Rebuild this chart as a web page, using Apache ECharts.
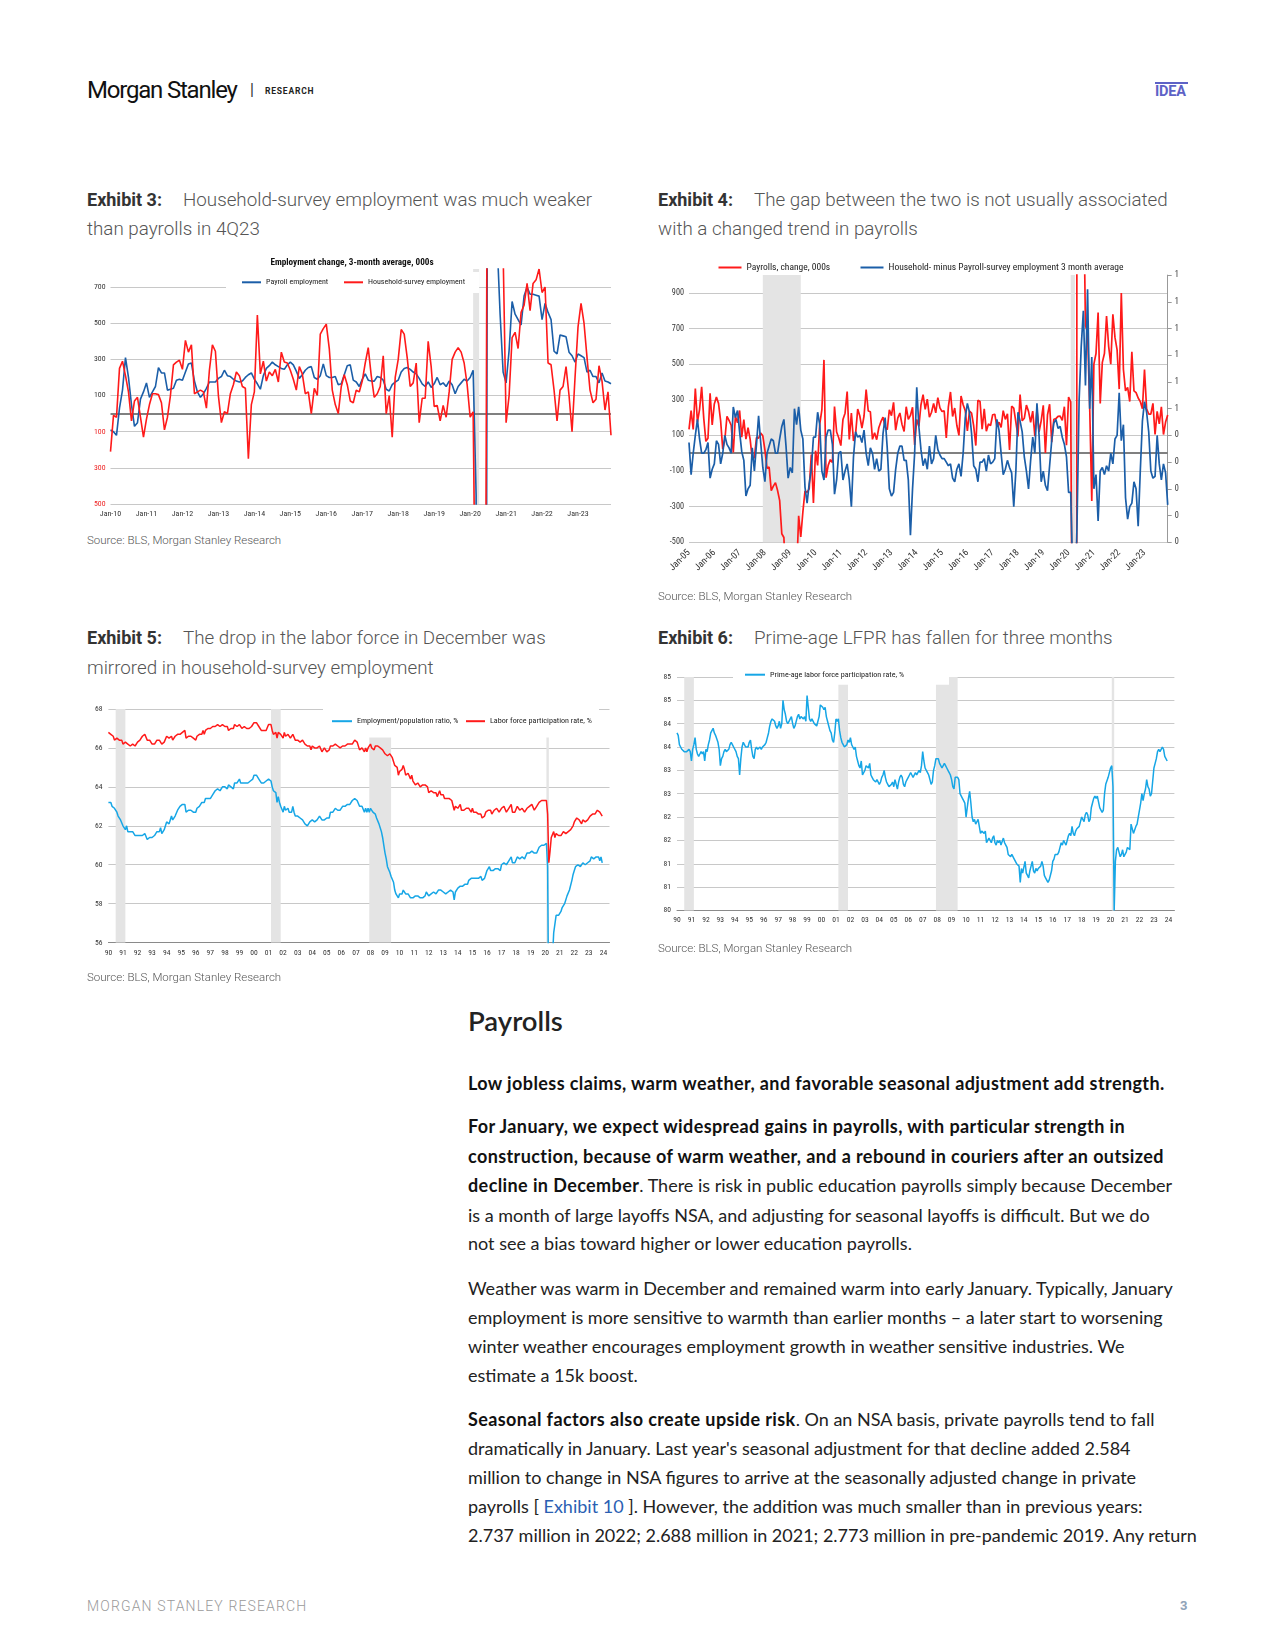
<!DOCTYPE html>
<html><head><meta charset="utf-8">
<script src="https://cdn.jsdelivr.net/npm/echarts/dist/echarts.min.js"></script>
<style>
html,body{margin:0;padding:0;background:#fff;}
body{width:1275px;height:1650px;position:relative;overflow:hidden;font-family:Roboto,sans-serif;}
.a{position:absolute;white-space:nowrap;}
.cap{font-family:Roboto,sans-serif;font-size:18.8px;line-height:22px;color:#555;font-weight:300;}
.capb{font-size:18px;font-weight:700;color:#333;}
.src{font-family:Roboto,sans-serif;font-size:11.5px;line-height:14px;color:#555;font-weight:300;}
.bd{font-family:Lato,'Open Sans',sans-serif;font-size:18px;line-height:22px;color:#222;left:468px;}
.bd b{color:#111;letter-spacing:0.4px;}
.lnk{color:#2b5fb3;}
.chart{position:absolute;}
</style></head><body>

<div class="a" style="left:87px;top:75px;font-size:24px;line-height:30px;color:#111;letter-spacing:-1.2px;">Morgan Stanley</div>
<div class="a" style="left:250px;top:80px;font-size:16px;line-height:20px;color:#333;">|</div>
<div class="a" style="left:265px;top:86px;font-size:8.5px;line-height:10px;font-weight:700;letter-spacing:0.8px;color:#222;">RESEARCH</div>
<div class="a" style="left:1155px;top:81.5px;width:33px;height:2.5px;background:#5d62c6;"></div>
<div class="a" style="left:1155px;top:83px;font-size:14.5px;line-height:17px;font-weight:700;color:#5d62c6;letter-spacing:-0.2px;">IDEA</div>

<div class="a cap" style="left:87px;top:189px;"><span class="capb">Exhibit 3:</span></div>
<div class="a cap" style="left:183px;top:189px;">Household-survey employment was much weaker</div>
<div class="a cap" style="left:87px;top:218px;">than payrolls in 4Q23</div>

<div class="a cap" style="left:658px;top:189px;"><span class="capb">Exhibit 4:</span></div>
<div class="a cap" style="left:754px;top:189px;">The gap between the two is not usually associated</div>
<div class="a cap" style="left:658px;top:218px;">with a changed trend in payrolls</div>

<div class="a cap" style="left:87px;top:627px;"><span class="capb">Exhibit 5:</span></div>
<div class="a cap" style="left:183px;top:627px;">The drop in the labor force in December was</div>
<div class="a cap" style="left:87px;top:657px;">mirrored in household-survey employment</div>

<div class="a cap" style="left:658px;top:627px;"><span class="capb">Exhibit 6:</span></div>
<div class="a cap" style="left:754px;top:627px;">Prime-age LFPR has fallen for three months</div>

<div id="c1" class="chart" style="left:87px;top:252px;width:540px;height:280px;"></div>
<div id="c2" class="chart" style="left:650px;top:256.5px;width:545px;height:335px;"></div>
<div id="c3" class="chart" style="left:85px;top:697px;width:540px;height:275px;"></div>
<div id="c4" class="chart" style="left:650px;top:661.5px;width:545px;height:280px;"></div>

<div class="a src" style="left:87px;top:533px;">Source: BLS, Morgan Stanley Research</div>
<div class="a src" style="left:658px;top:589px;">Source: BLS, Morgan Stanley Research</div>
<div class="a src" style="left:87px;top:970px;">Source: BLS, Morgan Stanley Research</div>
<div class="a src" style="left:658px;top:941px;">Source: BLS, Morgan Stanley Research</div>

<div class="a" style="left:468px;top:1005px;font-family:Lato,'Open Sans',sans-serif;font-size:27.5px;line-height:32px;font-weight:600;color:#222;">Payrolls</div>

<div class="a bd" style="top:1072px;"><b>Low jobless claims, warm weather, and favorable seasonal adjustment add strength.</b></div>

<div class="a bd" style="top:1115px;"><b>For January, we expect widespread gains in payrolls, with particular strength in</b></div>
<div class="a bd" style="top:1145px;"><b>construction, because of warm weather, and a rebound in couriers after an outsized</b></div>
<div class="a bd" style="top:1174px;"><b>decline in December</b>. There is risk in public education payrolls simply because December</div>
<div class="a bd" style="top:1204px;">is a month of large layoffs NSA, and adjusting for seasonal layoffs is difficult. But we do</div>
<div class="a bd" style="top:1232px;">not see a bias toward higher or lower education payrolls.</div>

<div class="a bd" style="top:1277px;">Weather was warm in December and remained warm into early January. Typically, January</div>
<div class="a bd" style="top:1306px;">employment is more sensitive to warmth than earlier months – a later start to worsening</div>
<div class="a bd" style="top:1335px;">winter weather encourages employment growth in weather sensitive industries. We</div>
<div class="a bd" style="top:1364px;">estimate a 15k boost.</div>

<div class="a bd" style="top:1407.5px;"><b>Seasonal factors also create upside risk</b>. On an NSA basis, private payrolls tend to fall</div>
<div class="a bd" style="top:1436.5px;">dramatically in January. Last year's seasonal adjustment for that decline added 2.584</div>
<div class="a bd" style="top:1466px;">million to change in NSA figures to arrive at the seasonally adjusted change in private</div>
<div class="a bd" style="top:1494.5px;">payrolls [ <span class="lnk">Exhibit 10</span> ]. However, the addition was much smaller than in previous years:</div>
<div class="a bd" style="top:1524px;">2.737 million in 2022; 2.688 million in 2021; 2.773 million in pre-pandemic 2019. Any return</div>

<div class="a" style="left:87px;top:1598px;font-size:14px;line-height:16px;color:#9a9a9a;letter-spacing:1.15px;font-weight:300;">MORGAN STANLEY RESEARCH</div>
<div class="a" style="left:1180px;top:1598px;font-size:13px;line-height:16px;color:#8fa3b8;font-weight:700;">3</div>

<script>
// ---------- Exhibit 3 data (Jan-10 .. Dec-23), 3-month average, 000s ----------
const payrollAvg = [
-90,-100,-120,30,130,310,200,50,-70,-50,80,120,
170,90,120,150,255,225,225,130,135,140,185,190,
185,230,275,280,180,120,90,110,140,175,175,175,
195,205,240,210,205,190,180,175,180,200,215,225,
190,165,135,210,250,265,285,270,260,250,245,270,
285,270,235,195,215,240,255,260,200,190,210,275,
210,200,200,205,160,165,215,265,270,185,175,150,
190,220,185,180,180,205,200,185,135,125,160,175,
185,230,250,255,245,230,220,195,165,150,175,145,
165,200,160,170,150,180,160,110,150,170,190,180,
200,240,-450,-7000,-5600,-4300,3100,2700,1300,950,550,230,
170,350,620,550,520,490,650,700,660,660,655,650,
520,610,560,520,345,330,435,430,425,340,320,285,
330,320,310,230,240,205,205,170,225,180,175,165];
const householdAvg = [
-210,-10,-20,250,290,210,120,-40,70,90,-20,-130,
-30,50,110,110,105,60,-90,-20,100,270,285,295,
245,405,340,380,110,120,130,120,30,240,380,345,
100,-50,10,0,110,160,230,210,150,140,-250,50,
120,545,220,290,180,230,210,245,175,340,285,280,
240,190,130,260,220,110,120,0,140,100,440,470,
495,360,130,50,0,150,215,160,70,60,130,120,
180,280,365,210,90,110,150,320,0,100,-130,200,
300,465,440,310,150,170,280,-50,85,85,400,260,
40,45,-40,45,-20,120,300,340,365,340,280,160,
-20,10,-1500,-7000,-5000,-2000,3000,2500,2000,1500,1200,900,
-50,100,420,450,360,560,600,720,570,720,740,800,
670,700,280,270,130,-40,130,150,260,100,-100,200,
480,610,500,310,130,60,80,265,180,20,120,-120];
const ex3TickLabels = ['Jan-10','Jan-11','Jan-12','Jan-13','Jan-14','Jan-15','Jan-16','Jan-17','Jan-18','Jan-19','Jan-20','Jan-21','Jan-22','Jan-23'];

// ---------- Exhibit 4 data (Jan-05 .. Dec-23) ----------
const payrollChange = [
134,239,134,363,175,245,373,196,67,84,337,159,
277,315,280,182,23,77,207,184,157,4,208,171,
240,90,189,79,143,78,-33,-24,88,84,114,98,
17,-84,-78,-210,-185,-165,-209,-266,-452,-473,-769,-695,
-791,-703,-823,-686,-351,-470,-329,-212,-219,-200,-7,-279,
14,-68,164,243,524,-137,-68,-36,-52,262,119,87,
43,189,225,346,77,225,69,110,248,209,141,209,
358,237,233,78,115,76,143,177,203,146,132,244,
211,286,130,197,226,162,122,261,190,212,258,47,
190,151,272,329,246,304,202,230,280,227,312,255,
234,238,86,262,344,206,254,157,100,321,272,239,
126,237,225,153,43,297,291,135,249,124,164,155,
216,219,149,174,145,239,190,221,18,264,253,175,
94,329,182,196,270,235,173,236,96,244,120,182,
269,1,215,275,62,191,194,207,208,185,261,45,
315,289,-1683,-20477,2793,4846,1726,1583,716,680,264,-268,
500,560,790,280,510,560,770,600,500,780,650,580,
360,900,470,350,370,290,570,350,340,310,290,250,
470,250,220,220,280,105,235,165,260,105,175,215];
const hhMinusPayroll = [
60,-120,0,100,190,80,0,0,20,60,-140,-90,
-60,70,50,-60,0,100,50,30,0,260,200,240,
120,10,-40,-240,-200,-180,30,-100,50,210,60,-80,
-160,0,40,80,70,0,0,80,150,190,40,-140,
-80,-110,250,160,260,130,80,-190,-280,-170,-90,90,
90,230,160,-100,-150,90,130,130,50,-230,-150,0,
10,-150,-100,-60,-150,-300,-20,120,90,100,60,130,
0,-70,30,0,-90,-30,-100,-90,110,200,30,-200,
-240,-220,-90,0,40,40,-40,-40,-150,-460,-200,0,
370,150,20,-70,-30,-90,40,-60,-30,100,20,-10,
-30,-30,-50,-70,-60,-140,-160,-90,-60,-130,0,200,
280,230,110,-70,-90,-160,-50,-50,-30,-100,-10,-60,
-50,-30,190,130,0,-120,-90,-40,-80,-110,-300,-100,
230,180,120,-20,-100,-200,-40,90,0,280,100,-160,
-100,-180,-210,-70,70,170,190,140,150,90,50,-20,
-220,-220,-700,-900,-400,300,600,800,380,920,250,540,
-200,-120,-380,-100,-80,-120,-70,-100,0,-60,80,100,
340,70,160,-250,-370,-300,-280,-160,-200,-410,-100,180,
290,230,120,-100,-140,-130,100,-60,-150,-60,-110,-290];
const ex4TickLabels = ['Jan-05','Jan-06','Jan-07','Jan-08','Jan-09','Jan-10','Jan-11','Jan-12','Jan-13','Jan-14','Jan-15','Jan-16','Jan-17','Jan-18','Jan-19','Jan-20','Jan-21','Jan-22','Jan-23'];
const ex4RightLabels = ['0','0','0','0','0','1','1','1','1','1','1'];

// ---------- Exhibit 5 data (Jan-90 .. Dec-23), % ----------
const epopRatio = [
63.2,63.2,63.2,63.0,63.1,62.9,62.8,62.7,62.5,62.5,62.3,62.2,
62.0,61.9,61.8,62.0,61.7,61.8,61.7,61.6,61.7,61.6,61.5,61.4,
61.5,61.4,61.5,61.6,61.5,61.5,61.6,61.5,61.3,61.3,61.4,61.4,
61.4,61.5,61.5,61.5,61.7,61.7,61.7,61.9,61.6,61.7,61.8,61.9,
62.2,62.2,62.1,62.3,62.5,62.3,62.3,62.5,62.6,62.8,62.9,63.0,
63.0,63.1,63.0,63.1,62.7,62.7,62.8,62.8,62.8,62.8,62.7,62.7,
62.7,62.9,62.9,63.0,63.0,63.2,63.3,63.2,63.4,63.4,63.4,63.4,
63.4,63.4,63.6,63.7,63.8,63.7,63.9,63.8,63.8,63.9,64.0,63.9,
64.0,64.0,63.9,64.1,64.1,64.0,64.0,63.9,64.2,64.1,64.2,64.3,
64.4,64.2,64.2,64.2,64.3,64.2,64.2,64.2,64.2,64.3,64.4,64.4,
64.6,64.6,64.6,64.7,64.4,64.5,64.2,64.2,64.2,64.2,64.3,64.4,
64.4,64.3,64.3,64.0,63.8,63.7,63.7,63.2,63.5,63.2,63.0,62.9,
62.7,63.0,62.8,62.7,62.9,62.7,62.7,62.7,63.0,62.7,62.5,62.4,
62.5,62.5,62.4,62.4,62.3,62.3,62.1,62.1,62.0,62.1,62.2,62.2,
62.3,62.3,62.2,62.3,62.3,62.4,62.5,62.4,62.3,62.3,62.3,62.4,
62.4,62.4,62.4,62.7,62.8,62.7,62.8,62.9,62.8,62.8,62.7,62.8,
62.9,63.0,63.1,63.0,63.1,63.1,63.0,63.1,63.1,63.3,63.3,63.4,
63.3,63.3,63.3,63.0,63.0,63.0,62.9,62.7,62.9,62.7,62.9,62.7,
62.9,62.8,62.7,62.7,62.6,62.4,62.3,62.1,61.9,61.7,61.4,61.0,
60.6,60.3,59.9,59.8,59.6,59.4,59.3,59.1,58.7,58.5,58.6,58.3,
58.5,58.5,58.5,58.7,58.6,58.5,58.5,58.5,58.5,58.3,58.3,58.3,
58.4,58.4,58.4,58.4,58.4,58.3,58.2,58.3,58.4,58.4,58.6,58.6,
58.4,58.5,58.5,58.4,58.6,58.6,58.5,58.4,58.7,58.8,58.7,58.7,
58.6,58.6,58.5,58.6,58.6,58.6,58.7,58.6,58.6,58.2,58.6,58.6,
58.8,58.8,58.9,58.9,58.9,59.0,59.0,59.0,59.0,59.2,59.2,59.3,
59.3,59.3,59.3,59.3,59.4,59.3,59.3,59.4,59.2,59.3,59.3,59.5,
59.7,59.8,59.9,59.7,59.7,59.7,59.8,59.8,59.8,59.8,59.8,59.7,
60.0,60.0,60.1,60.2,60.0,60.1,60.2,60.2,60.4,60.1,60.1,60.1,
60.1,60.4,60.4,60.3,60.4,60.4,60.5,60.3,60.3,60.6,60.6,60.6,
60.7,60.7,60.7,60.6,60.6,60.6,60.7,60.9,61.0,61.0,61.0,61.0,
61.1,61.1,59.9,51.3,52.8,54.6,55.2,56.5,56.6,57.4,57.4,57.4,
57.5,57.6,57.8,57.9,58.0,58.0,58.4,58.5,58.7,58.8,59.2,59.5,
59.7,59.9,60.0,60.0,60.0,59.9,60.0,60.1,60.1,60.0,59.9,60.1,
60.2,60.2,60.4,60.4,60.3,60.3,60.4,60.4,60.4,60.2,60.4,60.1];
const lfpRate = [
66.8,66.7,66.7,66.6,66.6,66.4,66.5,66.5,66.4,66.4,66.4,66.4,
66.2,66.2,66.3,66.4,66.2,66.2,66.1,66.0,66.2,66.1,66.1,66.0,
66.3,66.2,66.4,66.5,66.6,66.7,66.7,66.6,66.4,66.3,66.4,66.4,
66.2,66.2,66.2,66.1,66.4,66.5,66.4,66.4,66.2,66.3,66.3,66.4,
66.6,66.6,66.5,66.6,66.6,66.4,66.4,66.6,66.6,66.7,66.7,66.7,
66.8,66.8,66.7,66.9,66.5,66.5,66.6,66.6,66.6,66.6,66.5,66.4,
66.4,66.6,66.6,66.7,66.7,66.7,66.9,66.7,66.9,67.0,67.0,67.0,
67.0,66.9,67.1,67.1,67.1,67.1,67.2,67.1,67.1,67.1,67.2,67.2,
67.1,67.1,67.1,66.9,67.0,67.0,67.0,67.0,67.2,67.2,67.1,67.2,
67.2,67.2,67.0,67.1,67.1,67.1,67.0,67.0,67.0,67.0,67.1,67.1,
67.3,67.3,67.3,67.3,67.1,67.1,66.9,66.9,66.9,66.8,66.9,67.0,
67.2,67.1,67.2,66.9,66.7,66.7,66.8,66.5,66.8,66.7,66.7,66.7,
66.5,66.8,66.6,66.7,66.7,66.6,66.5,66.6,66.7,66.6,66.4,66.3,
66.4,66.4,66.3,66.4,66.4,66.5,66.2,66.1,66.1,66.1,66.1,65.9,
66.1,66.0,66.0,65.9,66.0,66.1,66.1,66.0,65.8,65.9,66.0,65.9,
65.8,65.9,65.9,66.1,66.1,66.1,66.1,66.2,66.1,66.1,66.0,66.0,
66.0,66.1,66.2,66.1,66.1,66.2,66.1,66.2,66.1,66.2,66.3,66.4,
66.4,66.3,66.2,65.9,66.0,66.0,66.0,65.8,66.0,65.8,66.0,66.0,
66.2,66.0,66.1,65.9,66.1,66.1,66.1,66.1,66.0,66.0,65.9,65.8,
65.7,65.8,65.6,65.7,65.7,65.7,65.5,65.4,65.1,65.0,65.0,64.6,
64.8,64.9,64.9,65.1,64.9,64.6,64.6,64.7,64.6,64.4,64.6,64.3,
64.2,64.1,64.2,64.2,64.1,64.0,64.0,64.1,64.2,64.1,64.1,64.0,
63.7,63.8,63.8,63.7,63.7,63.8,63.7,63.5,63.6,63.8,63.6,63.7,
63.6,63.4,63.3,63.4,63.4,63.4,63.3,63.3,63.2,62.8,63.0,62.9,
62.9,62.9,63.1,62.8,62.9,62.8,62.9,62.9,62.8,62.9,62.9,62.7,
62.9,62.7,62.7,62.7,62.8,62.6,62.6,62.6,62.4,62.5,62.5,62.7,
62.7,62.8,62.9,62.8,62.6,62.7,62.8,62.8,62.9,62.8,62.7,62.7,
62.9,62.9,63.0,62.9,62.7,62.8,62.9,62.9,63.1,62.7,62.7,62.7,
62.7,63.0,62.9,62.8,62.8,62.9,62.9,62.7,62.7,62.9,62.9,63.0,
63.1,63.1,63.0,62.8,62.9,63.0,63.1,63.2,63.2,63.3,63.3,63.3,
63.3,63.3,62.6,60.1,60.7,61.4,61.5,61.7,61.4,61.6,61.5,61.5,
61.4,61.5,61.6,61.7,61.6,61.6,61.7,61.7,61.7,61.8,61.9,62.0,
62.2,62.3,62.4,62.3,62.3,62.2,62.1,62.3,62.3,62.2,62.2,62.3,
62.4,62.5,62.6,62.6,62.6,62.6,62.6,62.8,62.8,62.7,62.8,62.5];

// ---------- Exhibit 6 data (Jan-90 .. Dec-23), % ----------
const primeAgeLfpr = [
83.8,83.75,83.55,83.5,83.45,83.45,83.4,83.4,83.4,83.4,83.45,83.4,
83.2,83.45,83.55,83.7,83.45,83.35,83.3,83.35,83.4,83.35,83.4,83.2,
83.45,83.4,83.55,83.65,83.8,83.85,83.9,83.8,83.75,83.75,83.6,83.45,
83.1,83.25,83.3,83.4,83.45,83.4,83.4,83.45,83.55,83.6,83.55,83.5,
83.5,83.4,83.3,83.25,82.9,83.25,83.5,83.6,83.55,83.5,83.5,83.5,
83.6,83.65,83.45,83.3,83.25,83.45,83.5,83.45,83.45,83.5,83.45,83.5,
83.5,83.55,83.6,83.7,83.8,83.95,84.05,84.1,84.1,84.05,83.95,83.9,
83.95,84.05,83.9,84.0,84.5,84.3,84.2,84.05,84.0,84.05,84.1,84.15,
84.0,83.9,83.95,84.05,84.15,84.2,84.1,84.15,84.15,84.1,84.15,84.05,
84.6,84.35,84.1,84.05,84.1,84.1,84.0,84.0,83.95,84.05,84.15,84.4,
84.4,84.35,84.3,84.35,84.15,84.05,83.95,83.85,83.8,83.65,83.6,83.8,
84.1,84.05,84.1,83.85,83.7,83.6,83.55,83.5,83.5,83.55,83.65,83.6,
83.7,83.55,83.5,83.45,83.5,83.3,83.2,83.1,83.05,83.2,82.9,82.9,
83.0,83.1,83.1,83.05,83.15,82.9,82.85,82.8,82.8,82.75,82.8,82.8,
82.7,82.75,82.85,82.9,83.0,82.85,82.75,82.7,82.65,82.65,82.7,82.75,
82.65,82.8,82.7,82.6,82.75,82.85,82.9,82.85,82.7,82.65,82.75,82.8,
82.85,82.9,82.95,82.9,82.85,82.9,82.95,82.9,82.95,83.0,82.95,83.1,
83.4,83.2,83.05,83.0,82.95,82.9,82.8,82.7,82.75,83.0,83.1,83.25,
83.25,83.25,83.15,83.1,83.05,83.05,83.15,83.1,83.05,83.0,82.95,82.9,
82.8,82.65,82.6,82.85,82.85,82.85,82.8,82.5,82.5,82.4,82.35,82.3,
82.0,82.2,82.4,82.55,82.3,82.0,81.9,81.95,81.85,81.9,81.95,81.8,
81.65,81.7,81.7,81.65,81.7,81.45,81.5,81.55,81.5,81.45,81.55,81.6,
81.45,81.4,81.5,81.45,81.5,81.4,81.4,81.55,81.45,81.4,81.35,81.2,
81.2,81.15,81.2,81.2,81.1,81.05,81.0,81.0,80.95,80.6,80.9,80.8,
80.8,81.05,80.8,80.75,80.7,80.85,80.95,81.05,80.85,80.8,80.9,80.85,
80.9,80.9,80.95,81.05,80.95,80.75,80.7,80.65,80.6,80.65,80.75,80.85,
81.05,81.1,81.2,81.2,81.2,81.25,81.35,81.45,81.4,81.5,81.45,81.4,
81.5,81.6,81.65,81.6,81.8,81.65,81.6,81.7,81.75,81.75,81.8,81.8,
82.0,81.95,81.9,82.05,82.1,82.05,81.9,81.95,82.2,82.3,82.4,82.45,
82.4,82.45,82.45,82.2,82.15,82.1,82.15,82.5,82.7,82.7,82.85,82.95,
83.05,83.1,82.65,80.0,81.05,81.3,81.35,81.25,81.15,81.2,81.3,81.15,
81.2,81.25,81.35,81.35,81.3,81.85,81.75,81.65,81.65,81.8,81.85,82.0,
82.15,82.3,82.5,82.35,82.5,82.6,82.8,82.65,82.6,82.45,82.5,82.5,
83.05,83.15,83.25,83.4,83.45,83.4,83.45,83.5,83.45,83.3,83.3,83.2];
const yearTickLabels = ['90','91','92','93','94','95','96','97','98','99','00','01','02','03','04','05','06','07','08','09','10','11','12','13','14','15','16','17','18','19','20','21','22','23','24'];
const ex6YLabels = ['80','81','81','82','82','83','83','84','84','85','85'];
const recessions = [['1990-07','1991-03'],['2001-03','2001-11'],['2007-12','2009-06'],['2020-02','2020-04']];

// ---------- helpers ----------
function monthCats(y0, y1, mEnd){
  const a=[];
  for(let y=y0;y<=y1;y++){ for(let m=1;m<=12;m++){ if(y===y1 && m>mEnd) break; a.push(y+'-'+(m<10?'0':'')+m); } }
  return a;
}
const FONT = "'Roboto Condensed','Liberation Sans Narrow',Roboto,sans-serif";
const DBLUE = '#1b5ea8', RED = '#ff1a1a', LBLUE = '#16a6e6';
const GRID_C = '#c8c8c8', BAND = '#e4e4e4', ZERO_C = '#808080';
function lbl(size){ return {fontSize:size, color:'#333', fontFamily:FONT}; }
function legendItem(name, left, top, w, size){
  return {data:[name], left:left, top:top, padding:0, itemWidth:w, itemHeight:2, icon:'rect', itemGap:0,
          textStyle:{fontSize:size, color:'#222', fontFamily:FONT}, selectedMode:false, z:6};
}
function catAxis(cats, labels, labelOpt, lineOpt){
  return {type:'category', data:cats, boundaryGap:false,
    axisLine:lineOpt||{show:false}, axisTick:{show:false}, splitLine:{show:false},
    axisLabel:Object.assign({interval:(i)=>i%12===0, formatter:(v,i)=>labels[Math.floor(i/12)]||''}, labelOpt)};
}
function line(name, data, color, w, extra){
  return Object.assign({name:name, type:'line', data:data, showSymbol:false, symbol:'none', silent:true,
    lineStyle:{color:color, width:w}, itemStyle:{color:color}, z:2}, extra||{});
}

// ---------- Exhibit 3 ----------
const c1 = echarts.init(document.getElementById('c1'));
c1.setOption({
  animation:false,
  grid:{left:23.5, top:17, width:500.5, height:235, outerBoundsMode:'none'},
  graphic:[
    {type:'rect', z:3, shape:{x:139,y:20,width:253,height:21}, style:{fill:'#fff'}},
    {type:'text', z:5, x:265, y:10.5, style:{text:'Employment change, 3-month average, 000s', fontSize:9.2, fontWeight:'bold', fontFamily:FONT, fill:'#111', align:'center', verticalAlign:'middle', textAlign:'center', textVerticalAlign:'middle'}}
  ],
  legend:[legendItem('Payroll employment',155,26.3,19,8), legendItem('Household-survey employment',257,26.3,19,8)],
  xAxis: catAxis(monthCats(2010,2023,12), ex3TickLabels, Object.assign({margin:6}, lbl(8))),
  yAxis:{type:'value', min:-500, max:800, interval:200, axisLine:{show:false}, axisTick:{show:false},
    splitLine:{show:true, showMaxLine:false, lineStyle:{color:GRID_C, width:1}},
    axisLabel:{showMaxLabel:false, margin:5, formatter:(v)=> v<0 ? '{n|'+(-v)+'}' : '{p|'+v+'}',
      rich:{p:{fontSize:7.8,color:'#333',fontFamily:FONT}, n:{fontSize:7.8,color:'#ee2222',fontFamily:FONT}}}},
  series:[
    line('Payroll employment', payrollAvg, DBLUE, 1.6, {
      markArea:{silent:true, z:1, itemStyle:{color:BAND}, data:[[{xAxis:'2020-02'},{xAxis:'2020-04'}]]},
      markLine:{silent:true, z:1, symbol:'none', label:{show:false}, lineStyle:{color:ZERO_C, width:2, type:'solid'}, data:[{yAxis:0}]}}),
    line('Household-survey employment', householdAvg, RED, 1.6)
  ]
});

// ---------- Exhibit 4 ----------
const c2 = echarts.init(document.getElementById('c2'));
c2.setOption({
  animation:false,
  grid:{left:39, top:18.1, width:478.7, height:267.2, outerBoundsMode:'none'},
  legend:[legendItem('Payrolls, change, 000s',68.5,5.5,23,9.5), legendItem('Household- minus Payroll-survey employment 3 month average',210.5,5.5,23,9.5)],
  xAxis: catAxis(monthCats(2005,2023,12), ex4TickLabels, Object.assign({rotate:45, margin:9}, lbl(9.5))),
  yAxis:[
    {type:'value', min:-500, max:1000, interval:200, position:'left', axisLine:{show:false}, axisTick:{show:false},
     splitLine:{show:true, showMaxLine:false, lineStyle:{color:GRID_C, width:1}},
     axisLabel:Object.assign({showMaxLabel:false, margin:5}, lbl(8.2))},
    {type:'value', min:0, max:1, interval:0.1, position:'right', axisLine:{show:true, lineStyle:{color:'#999'}},
     axisTick:{show:true, length:4, lineStyle:{color:'#999'}}, splitLine:{show:false},
     axisLabel:Object.assign({margin:7, formatter:(v,i)=>ex4RightLabels[i]}, lbl(8.2))}
  ],
  series:[
    line('Payrolls, change, 000s', payrollChange, RED, 1.7, {
      markArea:{silent:true, z:1, itemStyle:{color:BAND}, data:[[{xAxis:'2007-12'},{xAxis:'2009-06'}],[{xAxis:'2020-02'},{xAxis:'2020-04'}]]},
      markLine:{silent:true, z:1, symbol:'none', label:{show:false}, lineStyle:{color:ZERO_C, width:2, type:'solid'}, data:[{yAxis:0}]}}),
    line('Household- minus Payroll-survey employment 3 month average', hhMinusPayroll, DBLUE, 1.7)
  ]
});

// ---------- Exhibit 5 ----------
const catsLong = monthCats(1990,2024,6);
const recArea = recessions.map(r=>[{xAxis:r[0]},{xAxis:r[1]}]);
const c3 = echarts.init(document.getElementById('c3'));
c3.setOption({
  animation:false,
  grid:{left:23.4, top:12, width:501.1, height:233.6, outerBoundsMode:'none'},
  graphic:[{type:'rect', z:3, shape:{x:238,y:9,width:276,height:31.5}, style:{fill:'#fff'}}],
  legend:[legendItem('Employment/population ratio, %',247,20.2,20,8.1), legendItem('Labor force participation rate, %',381,20.2,19,8.1)],
  xAxis: catAxis(catsLong, yearTickLabels, Object.assign({margin:6}, lbl(7.6)), {show:true, lineStyle:{color:'#8a8a8a'}}),
  yAxis:{type:'value', min:56, max:68, interval:2, axisLine:{show:false}, axisTick:{show:false},
    splitLine:{show:true, lineStyle:{color:GRID_C, width:1}}, axisLabel:Object.assign({margin:6}, lbl(7.6))},
  series:[
    line('Employment/population ratio, %', epopRatio, LBLUE, 1.5, {
      markArea:{silent:true, z:1, itemStyle:{color:BAND}, data:recArea}}),
    line('Labor force participation rate, %', lfpRate, RED, 1.5)
  ]
});

// ---------- Exhibit 6 ----------
const c4 = echarts.init(document.getElementById('c4'));
c4.setOption({
  animation:false,
  grid:{left:27, top:14.9, width:497.4, height:233.6, outerBoundsMode:'none'},
  graphic:[{type:'rect', z:3, shape:{x:83,y:0,width:216,height:22.8}, style:{fill:'#fff'}}],
  legend:[legendItem('Prime-age labor force participation rate, %',95,8.7,20,8.1)],
  xAxis: catAxis(catsLong, yearTickLabels, Object.assign({margin:6}, lbl(7.6)), {show:true, lineStyle:{color:'#8a8a8a'}}),
  yAxis:{type:'value', min:80, max:85, interval:0.5, axisLine:{show:false}, axisTick:{show:false},
    splitLine:{show:true, lineStyle:{color:GRID_C, width:1}}, axisLabel:Object.assign({margin:6, formatter:(v,i)=>ex6YLabels[i]}, lbl(7.6))},
  series:[
    line('Prime-age labor force participation rate, %', primeAgeLfpr, LBLUE, 1.5, {
      markArea:{silent:true, z:1, itemStyle:{color:BAND}, data:recArea}})
  ]
});
</script>
</body></html>
